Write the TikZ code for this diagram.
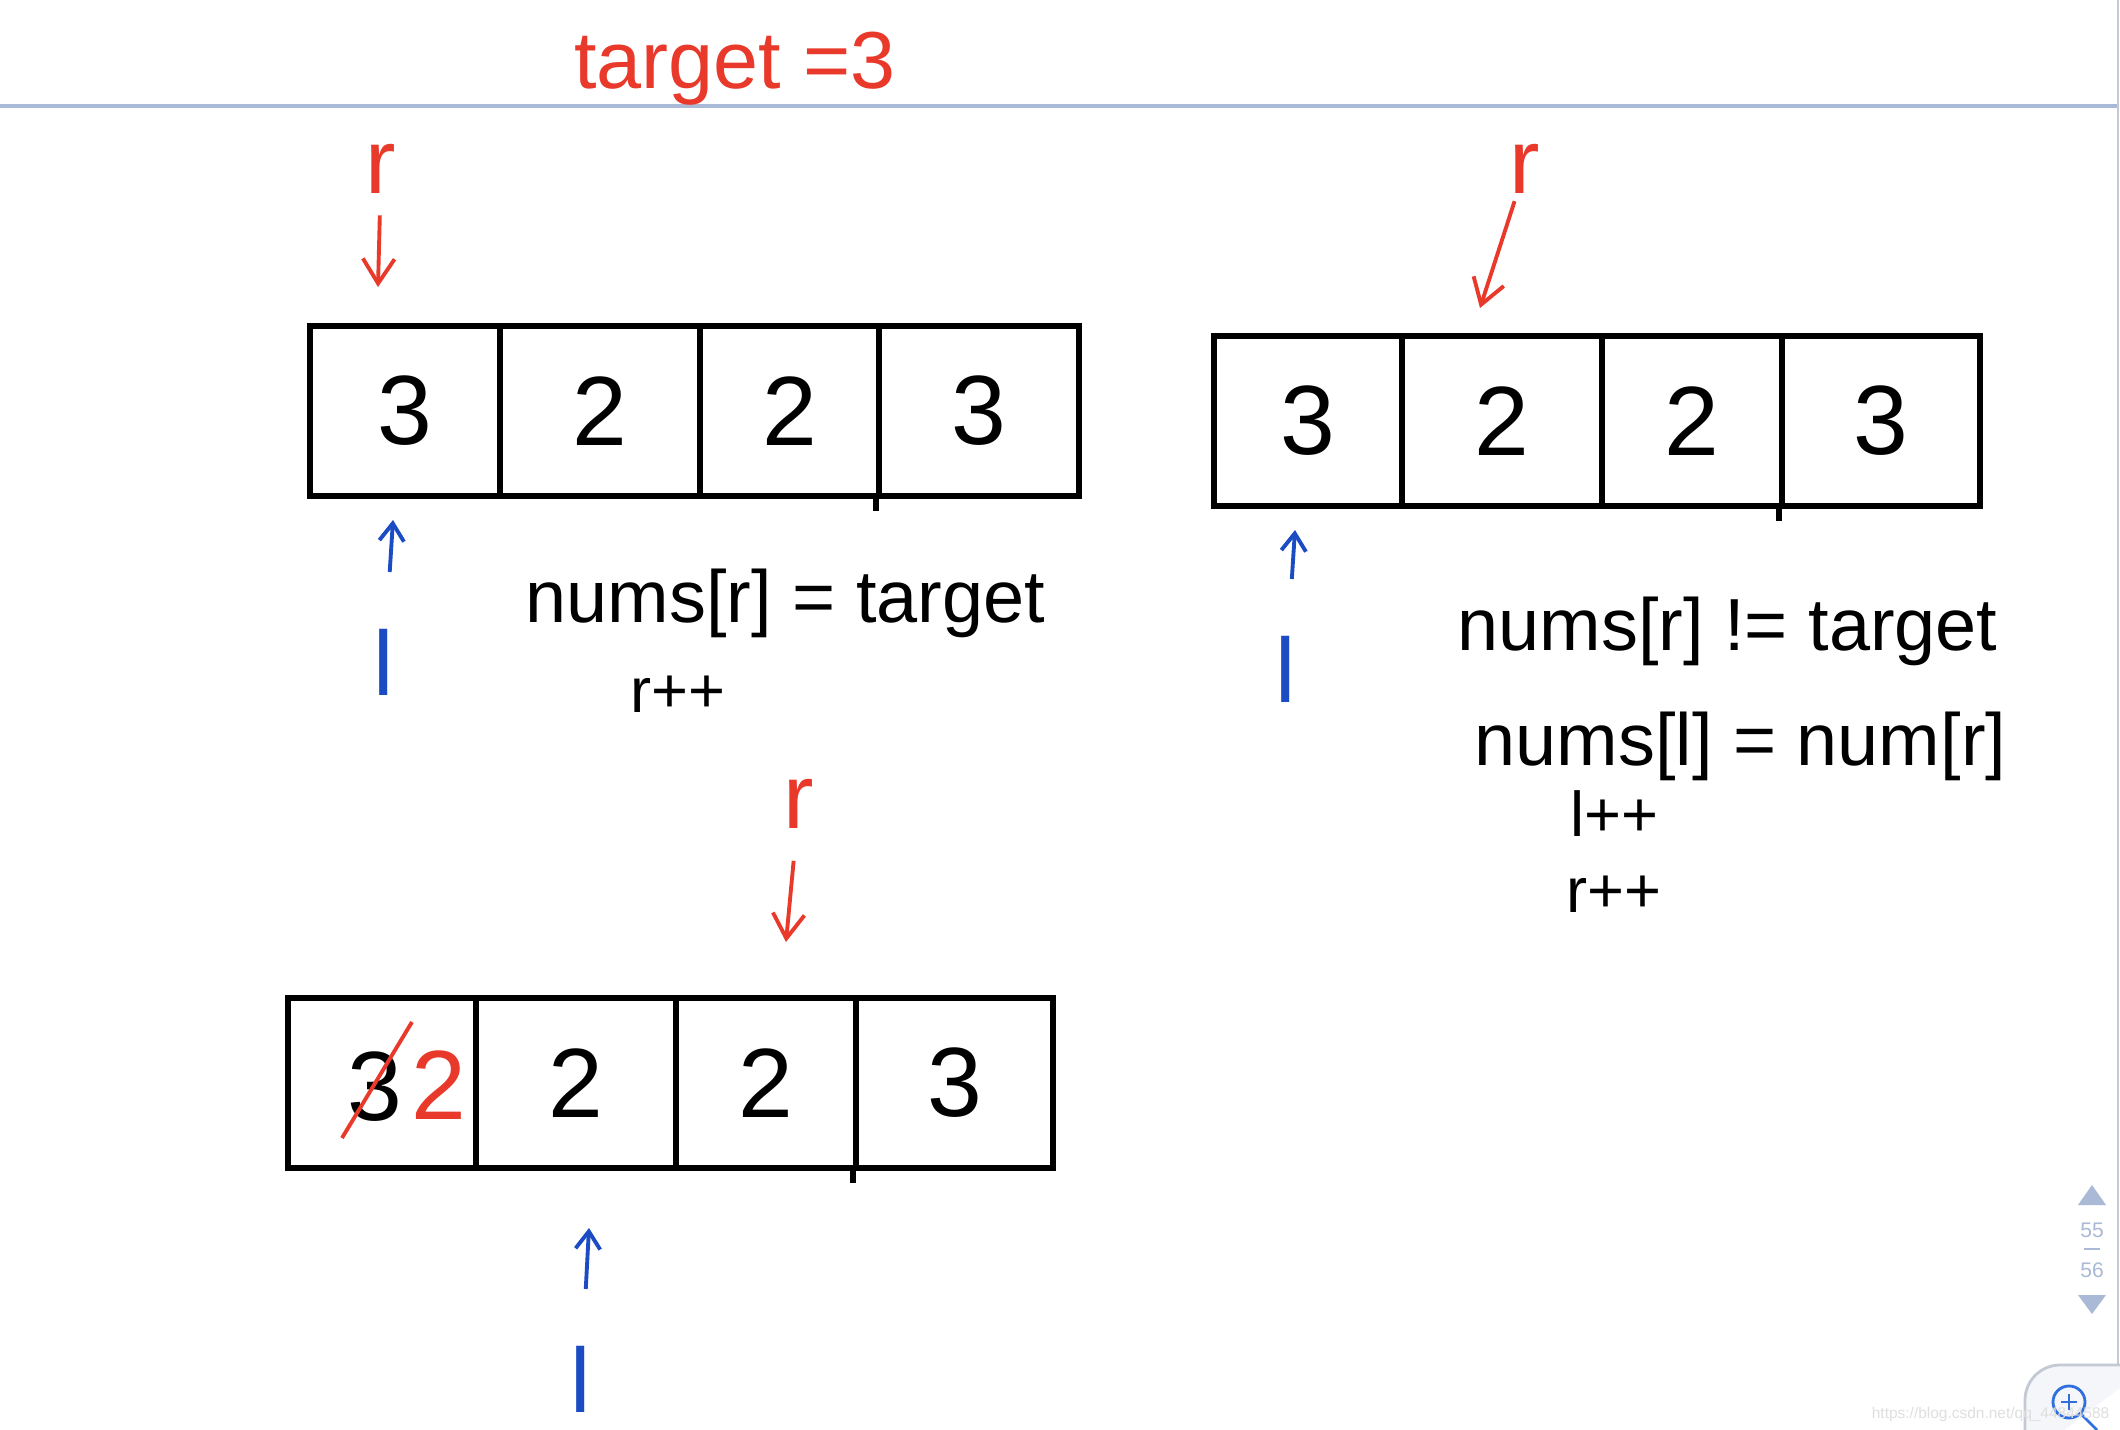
\documentclass[tikz,border=0pt]{standalone}
\usepackage{fontspec}
\setmainfont{Liberation Sans}
\usetikzlibrary{arrows.meta}

\definecolor{penred}{HTML}{E8392A}
\definecolor{penblue}{HTML}{1B4CC4}
\definecolor{uiblue}{HTML}{A9B9D6}
\definecolor{zoomblue}{HTML}{2F6FE0}
\definecolor{btnfill}{HTML}{F5F6FA}
\definecolor{btnline}{HTML}{C3CAD3}

\tikzset{
  cell/.style={draw, line width=1.7pt, minimum height=1.7cm, inner sep=0pt,
    anchor=north west, font=\fontsize{28}{30}\selectfont},
  ptrlabel/.style={inner sep=1pt, font=\fontsize{26}{28}\selectfont},
  rptr/.style={penred, line width=1.1pt, -{Straight Barb[length=7pt,width=9pt]}},
  lptr/.style={penblue, line width=1.1pt, -{Straight Barb[length=5pt,width=7pt]}},
  code/.style={anchor=base west, inner sep=0pt, font=\fontsize{21}{24}\selectfont},
  stepline/.style={code, font=\fontsize{18}{20}\selectfont},
  pagenum/.style={uiblue, inner sep=0pt, font=\fontsize{6}{7}\selectfont}
}

\begin{document}
\begin{tikzpicture}[x=0.01cm, y=-0.01cm]
  \clip (0,0) rectangle (2120,1430);
  \fill[white] (0,0) rectangle (2120,1430);
  % page frame
  \draw[uiblue, line width=1.2pt] (0,106) -- (2118,106);
  \draw[btnline, line width=0.5pt] (2118,0) -- (2118,1365);
  \node[penred, anchor=base, inner sep=0pt, font=\fontsize{23}{26}\selectfont] (title) at (735,88) {target =3};

  % three copies of the array
  \foreach \i/\x/\w/\v in {1/307/1.90/3, 2/497/2.00/2, 3/697/1.79/2, 4/876/2.00/3}
  {
    \node[cell, minimum width=\w cm] (a\i) at (\x,323) {\v};
  }
  \foreach \i/\x/\w/\v in {1/1211/1.88/3, 2/1399/2.00/2, 3/1599/1.80/2, 4/1779/1.98/3}
  {
    \node[cell, minimum width=\w cm] (b\i) at (\x,333) {\v};
  }
  \foreach \i/\x/\w/\v in {1/285/1.88/{}, 2/473/2.00/2, 3/673/1.80/2, 4/853/1.97/3}
  {
    \node[cell, minimum width=\w cm] (c\i) at (\x,995) {\v};
  }
  \draw[line width=1.7pt] (a4.south west) -- ++(0,12);
  \draw[line width=1.7pt] (b4.south west) -- ++(0,12);
  \draw[line width=1.7pt] (c4.south west) -- ++(0,12);

  % overwritten value
  \node[inner sep=0pt, font=\fontsize{28}{30}\selectfont] (old) at (375,1087) {3};
  \node[penred, inner sep=0pt, font=\fontsize{28}{30}\selectfont] (new) at (439,1085) {2};
  \draw[penred, line width=1.1pt] (342,1138) -- (412,1022);

  % pointers
  \foreach \n/\x/\y/\tx/\ty/\s in {rA/381/169/378/287/5, rB/1525/169/1480/308/1, rC/799/804/786/942/8}
  {
    \node[ptrlabel, penred] (\n) at (\x,\y) {r};
    \coordinate (\n tip) at (\tx,\ty);
    \draw[rptr, shorten <=\s pt] (\n) -- (\n tip);
  }
  \foreach \n/\x/\y/\tx/\ty in {lA/384/662/393/520, lB/1286/669/1295/530, lC/581/1379/589/1228}
  {
    \node[ptrlabel, penblue] (\n) at (\x,\y) {l};
    \coordinate (\n tip) at (\tx,\ty);
    \draw[lptr, shorten <=15pt] (\n) -- (\n tip);
  }

  % notes
  \node[code] (condA) at (525,622) {nums[r] = target};
  \node[stepline] (stepA) at (630,712) {r++};
  \node[code] (condB) at (1457,650) {nums[r] != target};
  \node[code] (setB) at (1474,765) {nums[l] = num[r]};
  \node[stepline] (stepBl) at (1570,836) {l++};
  \node[stepline] (stepBr) at (1566,912) {r++};

  % page counter
  \fill[uiblue] (2078,1205) -- (2106,1205) -- (2092,1185) -- cycle;
  \node[pagenum] (pgA) at (2092,1230) {55};
  \draw[uiblue, line width=0.6pt] (2084,1249) -- (2100,1249);
  \node[pagenum] (pgB) at (2092,1270) {56};
  \fill[uiblue] (2078,1295) -- (2106,1295) -- (2092,1314) -- cycle;

  % zoom button
  \draw[btnline, fill=btnfill, line width=0.8pt, rounded corners=10pt]
    (2025,1460) -- (2025,1365) -- (2150,1365);
  \draw[zoomblue, line width=0.8pt] (2069,1402) circle[radius=0.16cm];
  \draw[zoomblue, line width=0.8pt] (2061,1402) -- (2077,1402) (2069,1394) -- (2069,1410);
  \draw[zoomblue, line width=0.8pt] (2080,1413) -- (2097,1430);
  \node[gray!25, anchor=base east, inner sep=0pt, font=\fontsize{4.4}{5}\selectfont] (mark)
    at (2110,1418) {https://blog.csdn.net/qq\_44844588};
\end{tikzpicture}
\end{document}
